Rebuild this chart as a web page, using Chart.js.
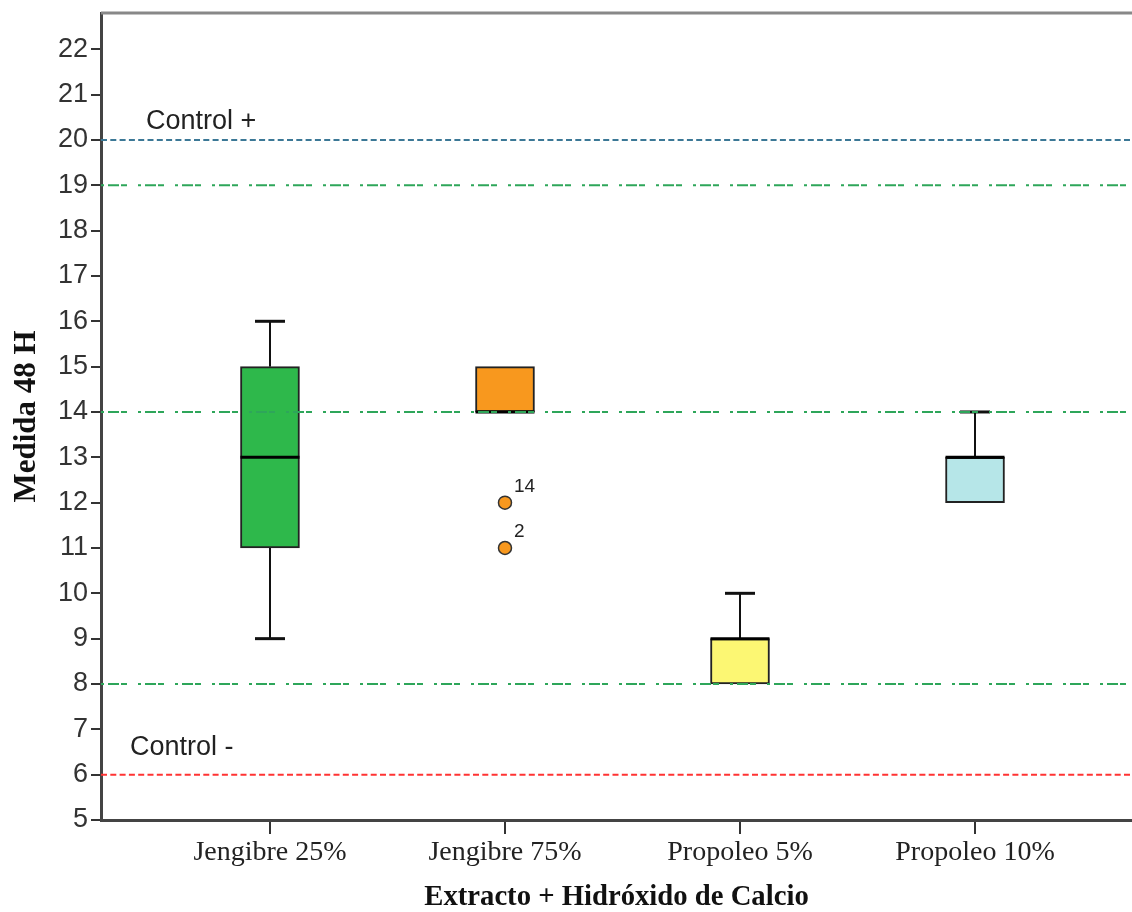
<!DOCTYPE html>
<html>
<head>
<meta charset="utf-8">
<script src="https://cdn.jsdelivr.net/npm/chart.js@4.4.1/dist/chart.umd.min.js"></script>
<style>
  body { margin: 0; background: #fff; }
  #wrap { width: 1132px; height: 912px; }
</style>
</head>
<body>
<div id="wrap"><canvas id="myChart" width="1132" height="912"></canvas></div>
<script>
// box plot values
const categories = ['Jengibre 25%', 'Jengibre 75%', 'Propoleo 5%', 'Propoleo 10%'];
const mins    = [9, 14, 8, 12];
const q1s     = [11, 14, 8, 12];
const medians = [13, 14, 9, 13];
const q3s     = [15, 15, 9, 13];
const maxs    = [16, 15, 10, 14];

// outliers (category index, value, case label)
const outlierCats   = [1, 1];
const outlierValues = [12, 11];
const outlierIds    = ['14', '2'];

// reference lines
const refValues = [20, 19, 14, 8, 6];
const refNames  = ['Control +', '', '', '', 'Control -'];

const yTicks = [5, 6, 7, 8, 9, 10, 11, 12, 13, 14, 15, 16, 17, 18, 19, 20, 21, 22];
const xMin = 0.281, xMax = 4.668;
const yMin = 5, yMax = 22.8;

const boxColors = ['rgb(46,184,75)', 'rgb(248,152,30)', 'rgb(252,247,115)', 'rgb(182,230,232)'];
const refColors = ['#3b7896', '#2ea65a', '#2ea65a', '#2ea65a', '#ff3333'];
const dotted = [6, 3.3];
const dashDot = [3, 4, 11, 2, 6, 11];
const refDashes = [dotted, dashDot, dashDot, dashDot, dotted];

const refDatasets = refValues.map((v, i) => ({
    type: 'scatter',
    data: [{ x: xMin, y: v }, { x: xMax, y: v }],
    showLine: true,
    borderColor: refColors[i],
    borderWidth: 2,
    borderDash: refDashes[i],
    pointRadius: 0,
    order: 0
}));

const boxExtras = {
    id: 'boxExtras',
    afterDatasetDraw(chart, args) {
        if (args.index !== 0) return;
        const ctx = chart.ctx;
        const xs = chart.scales.x, ys = chart.scales.y;
        const half = 29.5, cap = 15;
        ctx.save();
        ctx.strokeStyle = '#111';
        categories.forEach((c, i) => {
            const px = xs.getPixelForValue(i + 1);
            ctx.lineWidth = 2;
            if (maxs[i] > q3s[i]) {
                ctx.beginPath();
                ctx.moveTo(px, ys.getPixelForValue(q3s[i]));
                ctx.lineTo(px, ys.getPixelForValue(maxs[i]));
                ctx.stroke();
                ctx.lineWidth = 3;
                ctx.beginPath();
                ctx.moveTo(px - cap, ys.getPixelForValue(maxs[i]));
                ctx.lineTo(px + cap, ys.getPixelForValue(maxs[i]));
                ctx.stroke();
            }
            ctx.lineWidth = 2;
            if (mins[i] < q1s[i]) {
                ctx.beginPath();
                ctx.moveTo(px, ys.getPixelForValue(q1s[i]));
                ctx.lineTo(px, ys.getPixelForValue(mins[i]));
                ctx.stroke();
                ctx.lineWidth = 3;
                ctx.beginPath();
                ctx.moveTo(px - cap, ys.getPixelForValue(mins[i]));
                ctx.lineTo(px + cap, ys.getPixelForValue(mins[i]));
                ctx.stroke();
            }
            // median
            ctx.lineWidth = 3;
            ctx.strokeStyle = '#000';
            ctx.beginPath();
            ctx.moveTo(px - half, ys.getPixelForValue(medians[i]));
            ctx.lineTo(px + half, ys.getPixelForValue(medians[i]));
            ctx.stroke();
            ctx.strokeStyle = '#111';
        });
        ctx.restore();
    },
    afterDraw(chart) {
        const ctx = chart.ctx;
        const xs = chart.scales.x, ys = chart.scales.y;
        const area = chart.chartArea;
        ctx.save();
        // top frame line
        ctx.strokeStyle = '#888';
        ctx.lineWidth = 3;
        ctx.beginPath();
        ctx.moveTo(area.left, area.top);
        ctx.lineTo(area.right, area.top);
        ctx.stroke();
        // control labels
        ctx.fillStyle = '#222';
        ctx.font = '27px "Liberation Sans", Arial, sans-serif';
        ctx.textBaseline = 'alphabetic';
        ctx.textAlign = 'left';
        ctx.fillText(refNames[0], area.left + 45, ys.getPixelForValue(refValues[0]) - 11);
        ctx.fillText(refNames[4], area.left + 29, ys.getPixelForValue(refValues[4]) - 20);
        // outlier case labels
        ctx.font = '19px "Liberation Sans", Arial, sans-serif';
        outlierValues.forEach((v, i) => {
            ctx.fillText(outlierIds[i], xs.getPixelForValue(outlierCats[i] + 1) + 9, ys.getPixelForValue(v) - 11);
        });
        ctx.restore();
    }
};

const ctx = document.getElementById('myChart').getContext('2d');
const myChart = new Chart(ctx, {
    data: {
        datasets: [{
            type: 'bar',
            data: categories.map((c, i) => ({ x: i + 1, y: [q1s[i], q3s[i]] })),
            backgroundColor: boxColors,
            borderColor: '#222',
            borderWidth: 2,
            borderSkipped: false,
            barThickness: 59,
            order: 10
        }, {
            type: 'scatter',
            data: outlierValues.map((v, i) => ({ x: outlierCats[i] + 1, y: v })),
            backgroundColor: boxColors[1],
            borderColor: '#333',
            borderWidth: 1.5,
            pointRadius: 6.5,
            order: 5
        }, ...refDatasets]
    },
    options: {
        responsive: false,
        animation: false,
        layout: { autoPadding: false, padding: { top: 13, right: 0, left: 0, bottom: 0 } },
        plugins: {
            legend: { display: false },
            tooltip: { enabled: false }
        },
        scales: {
            x: {
                type: 'linear',
                min: xMin,
                max: xMax,
                offset: false,
                afterBuildTicks: (scale) => { scale.ticks = categories.map((c, i) => ({ value: i + 1 })); },
                afterFit: (scale) => { scale.height = 92; scale.paddingLeft = 0; scale.paddingRight = 0; },
                ticks: {
                    callback: (value) => categories[value - 1],
                    color: '#222',
                    padding: 2,
                    maxRotation: 0,
                    autoSkip: false,
                    font: { family: '"Liberation Serif", "Times New Roman", serif', size: 28 }
                },
                grid: { offset: false, drawOnChartArea: false, drawTicks: true, tickLength: 14, tickColor: '#333', lineWidth: 2 },
                border: { color: '#444', width: 3 },
                title: {
                    display: true,
                    text: 'Extracto + Hidróxido de Calcio',
                    color: '#111',
                    padding: 0,
                    font: { family: '"Liberation Serif", "Times New Roman", serif', size: 28.7, weight: 'bold', lineHeight: 1 }
                }
            },
            y: {
                type: 'linear',
                min: yMin,
                max: yMax,
                afterBuildTicks: (scale) => { scale.ticks = yTicks.map(v => ({ value: v })); },
                afterFit: (scale) => { scale.width = 101; scale.paddingTop = 0; scale.paddingBottom = 0; },
                ticks: {
                    color: '#333',
                    padding: 3,
                    font: { family: '"Liberation Sans", Arial, sans-serif', size: 27 }
                },
                grid: { drawOnChartArea: false, drawTicks: true, tickLength: 10, tickColor: '#333', lineWidth: 2 },
                border: { color: '#444', width: 3 },
                title: {
                    display: true,
                    text: 'Medida 48 H',
                    color: '#111',
                    padding: { top: 8, bottom: 0 },
                    font: { family: '"Liberation Serif", "Times New Roman", serif', size: 31, weight: 'bold' }
                }
            }
        }
    },
    plugins: [boxExtras]
});
</script>
</body>
</html>
